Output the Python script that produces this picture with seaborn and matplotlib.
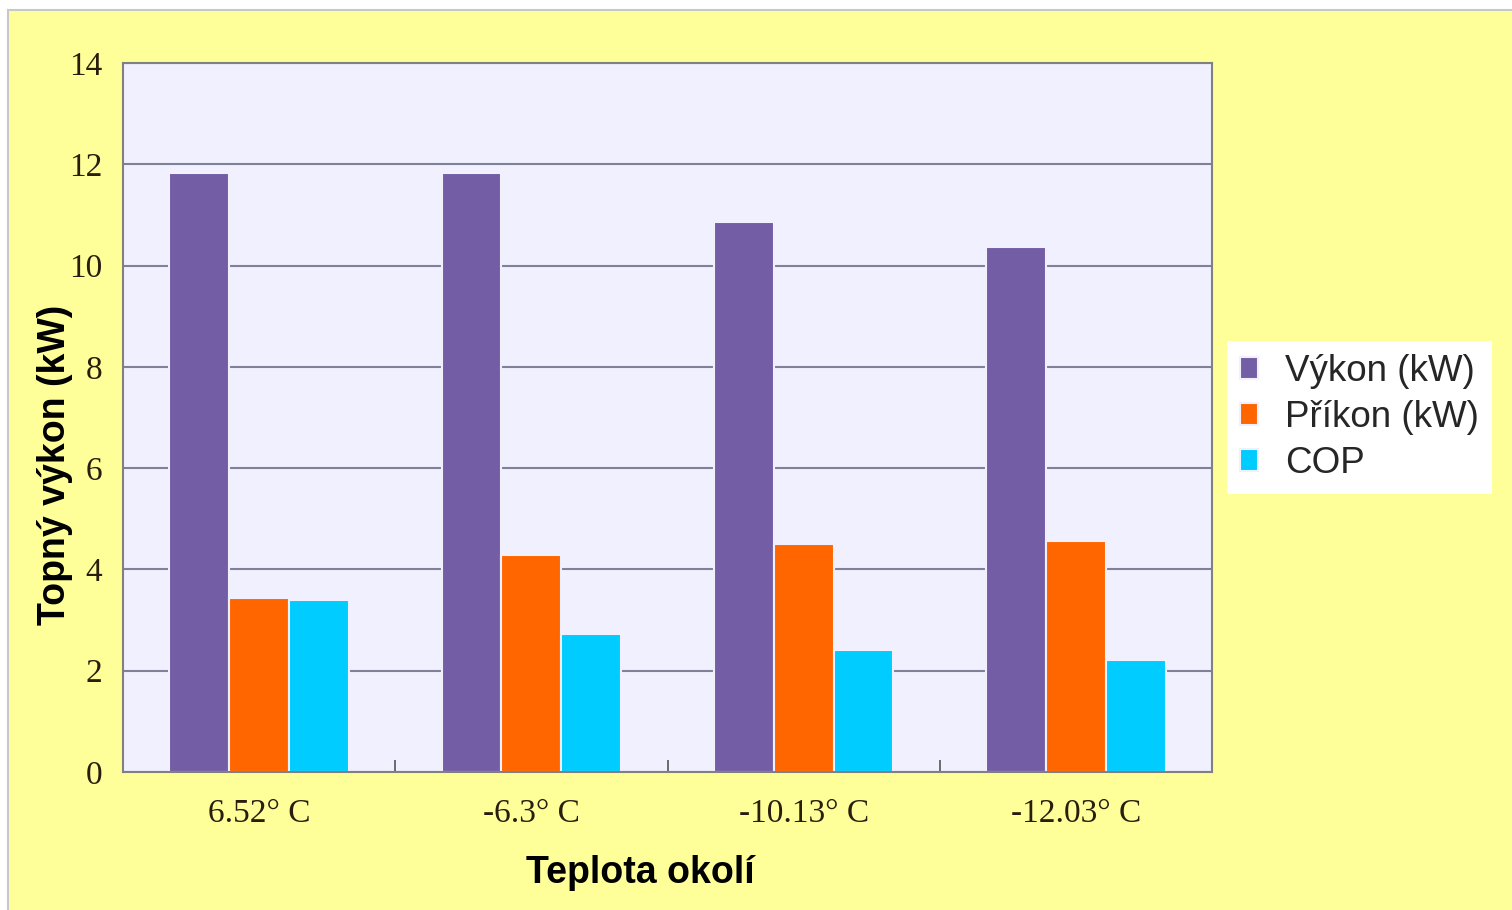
import matplotlib
matplotlib.use("Agg")
import matplotlib.pyplot as plt
from matplotlib.patches import Rectangle
import pandas as pd
import seaborn as sns

# Heat pump output, input power and COP at four ambient temperatures
temperatures = ["6.52° C", "-6.3° C", "-10.13° C", "-12.03° C"]
vykon = [11.82, 11.82, 10.87, 10.37]
prikon = [3.44, 4.29, 4.51, 4.57]
cop = [3.40, 2.73, 2.41, 2.21]
series_names = ["Výkon (kW)", "Příkon (kW)", "COP"]
series_colors = ["#735DA5", "#FF6600", "#00CCFF"]
y_ticks = [0, 2, 4, 6, 8, 10, 12, 14]

df = pd.DataFrame({
    "teplota": temperatures * 3,
    "serie": [n for n in series_names for _ in temperatures],
    "hodnota": vykon + prikon + cop,
})

sns.set_style("white")
plt.rcParams["font.family"] = ["Liberation Sans", "DejaVu Sans"]

W, H = 1512, 910
fig = plt.figure(figsize=(W / 100, H / 100), dpi=100, facecolor="white")
fig.patches.append(Rectangle((8 / W, -0.01), 1.0, 1.01 - 10 / H,
                             transform=fig.transFigure, facecolor="#FFFF99",
                             edgecolor="#C8C8C8", linewidth=1.5, zorder=-10))

ax = fig.add_axes([123 / W, 1 - 772 / H, (1212 - 123) / W, (772 - 63) / H])
ax.set_facecolor("#F0F0FF")

sns.barplot(data=df, x="teplota", y="hodnota", hue="serie",
            order=temperatures, hue_order=series_names,
            palette=series_colors, saturation=1, width=0.66,
            edgecolor="#F0F0FF", linewidth=1.5, errorbar=None, ax=ax)

ax.set_ylim(0, 14)
ax.set_xlim(-0.5, len(temperatures) - 0.5)
ax.set_yticks(y_ticks)
ax.yaxis.grid(True, color="#808098", linewidth=1.5)
ax.xaxis.grid(False)
ax.set_axisbelow(True)

for s in ax.spines.values():
    s.set_color("#808080")
    s.set_linewidth(1.5)
    s.set_visible(True)

tick_color = "#2b1d0e"
ax.tick_params(axis="y", length=0, pad=15, labelsize=24, labelcolor=tick_color)
ax.tick_params(axis="x", which="major", length=0, pad=19, labelsize=24,
               labelcolor=tick_color)
ax.set_xticks([i + 0.5 for i in range(len(temperatures) - 1)], minor=True)
ax.tick_params(axis="x", which="minor", direction="in", length=9,
               width=1.2, color="#555555", bottom=True)
for lbl in ax.get_xticklabels() + ax.get_yticklabels():
    lbl.set_fontfamily("Liberation Serif")

ax.set_xlabel("Teplota okolí", fontsize=27, fontweight="bold", color="black")
ax.set_ylabel("Topný výkon (kW)", fontsize=27, fontweight="bold", color="black")
ax.xaxis.set_label_coords(0.475, -0.117)
ax.yaxis.set_label_coords(-0.046, 0.433)

handles, labels = ax.get_legend_handles_labels()
ax.get_legend().remove()
fig.legend(handles, labels, loc="upper left",
           bbox_to_anchor=(1227 / W, 1 - 341 / H), frameon=True,
           facecolor="white", edgecolor="none", fancybox=False, framealpha=1,
           fontsize=26.5, handlelength=0.48, handleheight=0.52,
           handletextpad=0.75, labelspacing=0.3, borderpad=0.35,
           borderaxespad=0)

fig.savefig("out.png", dpi=100, facecolor=fig.get_facecolor())
